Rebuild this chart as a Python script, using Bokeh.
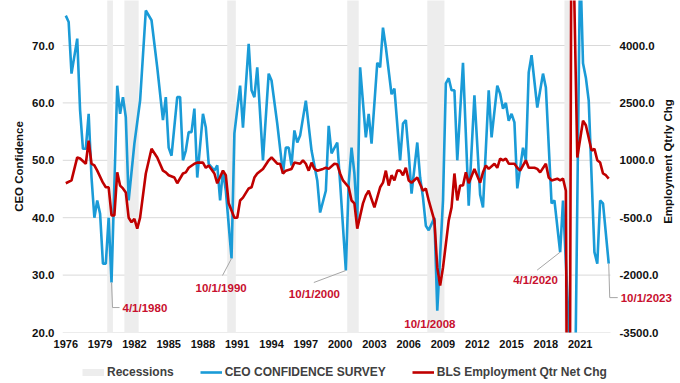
import math
from bokeh.plotting import figure
from bokeh.layouts import column
from bokeh.models import (Range1d, LinearAxis, FixedTicker, PrintfTickFormatter,
                          NumeralTickFormatter, Legend, LegendItem, Label)
from bokeh.embed import file_html
from bokeh.resources import INLINE

# ---------------- data ----------------
# x values are decimal years (quarter start dates; 1976Q2 = 1976.25)
ceo_t = [1976.25, 1976.5, 1976.75, 1977.25, 1977.5, 1977.75, 1978.0, 1978.25, 1978.5, 1978.75,
         1979.0, 1979.25, 1979.5, 1979.75, 1980.0, 1980.25, 1980.75, 1981.0, 1981.25, 1981.5,
         1981.75, 1982.25, 1982.75, 1983.25, 1983.75, 1984.25, 1984.75, 1985.0, 1985.25, 1985.5,
         1986.0, 1986.25, 1986.5, 1986.75, 1987.0, 1987.25, 1987.5, 1987.75, 1988.25, 1988.5,
         1988.75, 1989.25, 1989.5, 1989.75, 1990.0, 1990.25, 1990.75, 1991.0, 1991.5, 1991.75,
         1992.25, 1992.5, 1992.75, 1993.0, 1993.5, 1994.0, 1994.25, 1994.75, 1995.25, 1995.5,
         1995.75, 1996.0, 1996.25, 1996.5, 1996.75, 1997.25, 1997.75, 1998.25, 1998.5, 1999.0,
         1999.25, 1999.5, 2000.0, 2000.25, 2000.75, 2001.0, 2001.25, 2001.5, 2001.75, 2002.0,
         2002.5, 2002.75, 2003.0, 2003.5, 2003.75, 2004.0, 2004.25, 2004.75, 2005.0, 2005.5,
         2005.75, 2006.0, 2006.25, 2006.5, 2007.0, 2007.25, 2007.5, 2007.75, 2008.0, 2008.5,
         2008.75, 2009.25, 2009.5, 2009.75, 2010.0, 2010.25, 2010.5, 2011.0, 2011.5, 2012.0,
         2012.5, 2012.75, 2013.25, 2013.5, 2014.0, 2014.25, 2014.5, 2014.75, 2015.0, 2015.25,
         2015.5, 2015.75, 2016.25, 2016.5, 2016.75, 2017.0, 2017.5, 2018.0, 2018.25, 2018.75,
         2019.0, 2019.5, 2019.75, 2020.75, 2021.25, 2021.5, 2021.75, 2022.0, 2022.5, 2022.75,
         2023.0, 2023.25, 2023.75]
ceo_v = [75.2, 74.1, 65.1, 71.2, 58.7, 52.0, 52.0, 58.1, 47.0, 40.0,
         43.0, 40.7, 32.0, 32.0, 40.0, 28.7, 63.0, 58.1, 61.0, 57.5,
         43.0, 52.9, 60.4, 76.1, 74.4, 66.2, 57.0, 61.0, 52.2, 50.8,
         61.0, 61.0, 50.0, 51.7, 54.9, 54.9, 59.0, 47.0, 58.1, 55.7,
         49.4, 48.2, 49.1, 43.0, 48.2, 44.7, 32.9, 54.7, 63.0, 55.7,
         70.3, 62.2, 61.0, 66.2, 50.0, 65.1, 63.9, 56.4, 47.7, 52.2,
         52.2, 49.1, 55.2, 53.1, 54.3, 60.4, 51.7, 46.5, 40.9, 44.7,
         56.0, 51.2, 53.1, 46.1, 30.8, 46.0, 52.2, 47.7, 39.5, 66.2,
         54.0, 58.1, 52.9, 67.0, 66.2, 73.1, 69.7, 61.5, 62.5, 50.0,
         56.4, 57.0, 51.2, 44.2, 53.1, 47.0, 43.5, 38.6, 37.8, 40.0,
         23.8, 43.0, 63.4, 64.3, 62.2, 62.2, 50.0, 67.0, 42.1, 61.3,
         44.0, 41.8, 62.2, 54.0, 63.0, 61.6, 59.0, 60.0, 56.9, 58.1,
         56.6, 45.1, 52.2, 50.0, 65.3, 68.3, 59.2, 65.1, 62.7, 42.5,
         43.0, 34.0, 43.0, 0.0, 85.0, 66.9, 64.4, 60.4, 34.0, 32.0,
         43.0, 42.5, 32.0]

bls_t = [1976.25, 1976.75, 1977.25, 1977.5, 1978.0, 1978.25, 1978.5, 1978.75, 1979.0, 1979.5,
         1979.75, 1980.0, 1980.25, 1980.5, 1980.75, 1981.0, 1981.25, 1981.5, 1981.75, 1982.0,
         1982.25, 1982.5, 1982.75, 1983.25, 1983.75, 1984.25, 1984.75, 1985.0, 1985.25, 1985.75,
         1986.0, 1986.5, 1986.75, 1987.0, 1987.5, 1987.75, 1988.25, 1988.5, 1988.75, 1989.25,
         1989.5, 1990.0, 1990.25, 1990.5, 1991.0, 1991.25, 1991.5, 1991.75, 1992.25, 1992.5,
         1992.75, 1993.0, 1993.5, 1994.0, 1994.25, 1994.75, 1995.0, 1995.25, 1995.5, 1996.0,
         1996.25, 1996.75, 1997.0, 1997.25, 1997.5, 1997.75, 1998.0, 1998.25, 1998.75, 1999.0,
         1999.25, 1999.75, 2000.0, 2000.25, 2000.5, 2001.0, 2001.25, 2001.5, 2001.75, 2002.25,
         2002.5, 2002.75, 2003.25, 2003.75, 2004.0, 2004.25, 2004.5, 2004.75, 2005.0, 2005.25,
         2005.5, 2005.75, 2006.0, 2006.25, 2006.5, 2007.0, 2007.5, 2007.75, 2008.0, 2008.5,
         2008.75, 2009.0, 2009.25, 2009.75, 2010.0, 2010.25, 2010.5, 2010.75, 2011.0, 2011.25,
         2011.5, 2012.0, 2012.5, 2012.75, 2013.0, 2013.25, 2013.75, 2014.0, 2014.25, 2014.5,
         2014.75, 2015.0, 2015.5, 2015.75, 2016.0, 2016.5, 2016.75, 2017.25, 2017.5, 2017.75,
         2018.25, 2018.5, 2018.75, 2019.25, 2019.5, 2019.75, 2020.0, 2020.25, 2020.5, 2021.0,
         2021.5, 2021.75, 2022.25, 2022.5, 2022.75, 2023.0, 2023.25, 2023.5, 2023.75]
bls_v = [400, 475, 1075, 1045, 910, 1510, 910, 865, 730, 415,
         295, 295, -440, -440, 685, 340, 265, 160, -500, -620,
         -530, -785, -500, 655, 1300, 1075, 730, 685, 610, 550,
         400, 655, 685, 805, 910, 940, 940, 805, 865, 655,
         400, 730, 610, -125, -500, -500, -50, 25, 265, 295,
         550, 655, 775, 1000, 1075, 910, 910, 655, 730, 775,
         940, 910, 1000, 910, 730, 940, 775, 730, 775, 805,
         775, 910, 895, 655, 475, 295, -50, -125, -785, -125,
         85, 205, -230, 295, 415, 730, 340, 610, 475, 730,
         730, 610, 805, 475, 415, 550, 205, 265, -50, -575,
         -1805, -2270, -1805, -575, -230, 655, -50, 340, 340, 685,
         400, 775, 415, 685, 865, 775, 910, 805, 1045, 1000,
         1045, 910, 910, 805, 730, 1000, 805, 805, 775, 685,
         910, 550, 475, 520, 475, 520, 205, -15000, 9000, 1075,
         2035, 1915, 1255, 1300, 1000, 940, 655, 610, 520]

rec_start = [1980.0, 1981.5, 1990.5, 2001.0, 2008.0, 2020.0]   # first recession quarter
rec_end = [1980.25, 1982.5, 1991.0, 2001.75, 2009.25, 2020.25]  # last recession quarter

x_tick_years = [1976, 1979, 1982, 1985, 1988, 1991, 1994, 1997, 2000, 2003, 2006, 2009, 2012, 2015, 2018, 2021]
left_ticks = [20, 30, 40, 50, 60, 70]
right_ticks = [-3500, -2000, -500, 1000, 2500, 4000]

ann_text = ["4/1/1980", "10/1/1990", "10/1/2000", "10/1/2008", "4/1/2020", "10/1/2023"]
ann_t = [1980.25, 1990.75, 2000.75, 2008.75, 2019.5, 2023.75]

# ---------------- layout ----------------
FONT = "Liberation Sans"
BLUE = "#1A9BD7"
RED = "#C00000"
REC_GREY = "#EDEDED"
LABEL_RED = "#C8102E"
W, H = 680, 353          # main chart; the legend strip below is 30 px
LEG_H = 30
BL, BR, BT, BB = 62, 4, 0, 21
FW, FH = W - BL - BR, H - BT - BB          # frame 614 x 332
PX_PER_YEAR = 11.43
PX_PER_UNIT = 5.74
X0 = 1976.25 - 3.3 / PX_PER_YEAR
X1 = X0 + FW / PX_PER_YEAR
PLOT_END = X0 + 548 / PX_PER_YEAR          # right edge of the plot area proper
Y0 = 20.0
Y1 = Y0 + FH / PX_PER_UNIT
R0 = -3500.0
R1 = R0 + (Y1 - Y0) * 150.0
sx = 1.0 / PX_PER_YEAR
sy = 1.0 / PX_PER_UNIT

p = figure(width=W, height=H, output_backend="svg", toolbar_location=None,
           x_range=Range1d(X0, X1), y_range=Range1d(Y0, Y1),
           min_border_left=BL, min_border_right=BR, min_border_top=BT, min_border_bottom=BB)
p.extra_y_ranges = {"emp": Range1d(R0, R1)}
p.outline_line_color = None
p.background_fill_color = "white"
p.border_fill_color = "white"
p.xgrid.visible = False
p.ygrid.visible = False

def style_axis(ax):
    ax.axis_line_color = None
    ax.major_tick_line_color = None
    ax.minor_tick_line_color = None
    ax.major_tick_out = 0
    ax.major_tick_in = 0
    ax.minor_tick_out = 0
    ax.minor_tick_in = 0
    ax.major_label_text_font = FONT
    ax.major_label_text_font_style = "bold"
    ax.major_label_text_font_size = "11.5px"
    ax.major_label_text_color = "#111111"
    ax.axis_label_text_font = FONT
    ax.axis_label_text_font_style = "bold"
    ax.axis_label_text_font_size = "11.5px"
    ax.axis_label_text_color = "#111111"

xa = p.xaxis[0]
style_axis(xa)
xa.ticker = FixedTicker(ticks=[y + 0.25 for y in x_tick_years])
xa.formatter = NumeralTickFormatter(format="0")
xa.major_label_text_font_size = "11px"
xa.major_label_standoff = 7

ya = p.yaxis[0]
style_axis(ya)
ya.ticker = FixedTicker(ticks=left_ticks)
ya.formatter = PrintfTickFormatter(format="%.1f")
ya.major_label_standoff = 8
ya.axis_label = "CEO Confidence"
ya.axis_label_standoff = 4

# right axis sits at the frame edge; its labels are drawn back inside, next to the plot area
ra = LinearAxis(y_range_name="emp", ticker=FixedTicker(ticks=right_ticks),
                formatter=PrintfTickFormatter(format="%.1f"))
style_axis(ra)
ra.major_label_standoff = -(FW - 548) + 9
p.add_layout(ra, "right")

# horizontal gridlines across the plot area only
p.segment(x0=X0, x1=PLOT_END, y0=left_ticks, y1=left_ticks, line_color="#D9D9D9", line_width=1)

q = 0.125  # half a quarter: recession columns are centred on each quarter
p.quad(left=[s - q for s in rec_start], right=[e + q for e in rec_end],
       bottom=0, top=200, fill_color=REC_GREY, line_color=None)
p.line(ceo_t, ceo_v, line_color=BLUE, line_width=2.6)
p.line(bls_t, bls_v, y_range_name="emp", line_color=RED, line_width=2.6)

# right axis title (reads bottom-to-top)
p.add_layout(Label(x=X0 + (667 - BL) * sx, y=Y0 + (FH - 161) * sy, text="Employment Qtrly Chg",
                   text_font=FONT, text_font_style="bold", text_font_size="11.5px",
                   text_color="#111111", text_align="center", text_baseline="middle",
                   angle=math.pi / 2))

# annotations: label offsets (px) and leader lines (px) relative to the point
ann_style = [
    dict(dx=11, dy=25, lead=[(0, 0), (1, 25), (8, 25)]),
    dict(dx=-36, dy=30, lead=[(0, 0), (-9, 17)]),
    dict(dx=-57, dy=23, lead=[(0, 0), (-32, 12)]),
    dict(dx=-33, dy=13, lead=None),
    dict(dx=-47, dy=28, lead=[(0, 0), (-23, 18)]),
    dict(dx=12, dy=34, lead=[(0, 0), (1, 34), (9, 34)]),
]
lxs, lys = [], []
for txt, t, st in zip(ann_text, ann_t, ann_style):
    v = ceo_v[ceo_t.index(t)]
    if st["lead"]:
        lxs.append([t + a * sx for a, b in st["lead"]])
        lys.append([v - b * sy for a, b in st["lead"]])
    p.add_layout(Label(x=t, y=v, x_offset=st["dx"], y_offset=-st["dy"], text=txt,
                       text_font=FONT, text_font_style="bold", text_font_size="11.5px",
                       text_color=LABEL_RED, text_baseline="middle", text_align="left"))
p.multi_line(lxs, lys, line_color="#A6A6A6", line_width=1)

# ---------------- legend strip (its frame is aligned with the chart's frame) ----------------
lg = figure(width=W, height=LEG_H, output_backend="svg", toolbar_location=None,
            x_axis_type=None, y_axis_type=None, x_range=Range1d(0, 1), y_range=Range1d(0, 1),
            min_border=0)
lg.outline_line_color = None
lg.xgrid.visible = False
lg.ygrid.visible = False
# legend keys only: their points lie outside the strip's ranges, so nothing is drawn
key_x, key_y = [2, 3], [2, 3]
k_rec = lg.line(x=key_x, y=key_y, line_color=REC_GREY, line_width=7)
k_ceo = lg.line(x=key_x, y=key_y, line_color=BLUE, line_width=2.6)
k_bls = lg.line(x=key_x, y=key_y, line_color=RED, line_width=2.6)
legend = Legend(items=[LegendItem(label="Recessions", renderers=[k_rec]),
                       LegendItem(label="CEO CONFIDENCE SURVEY", renderers=[k_ceo]),
                       LegendItem(label="BLS Employment Qtr Net Chg", renderers=[k_bls])],
                orientation="horizontal", location=(20, 4),
                label_text_font=FONT, label_text_font_style="bold", label_text_font_size="12px",
                label_text_color="#404040", glyph_width=22, glyph_height=14, label_height=14,
                label_standoff=3, spacing=26, padding=0, margin=0,
                border_line_color=None, background_fill_alpha=0)
lg.add_layout(legend, "center")

open("out.html", "w").write(file_html(column(p, lg, spacing=0), INLINE))
